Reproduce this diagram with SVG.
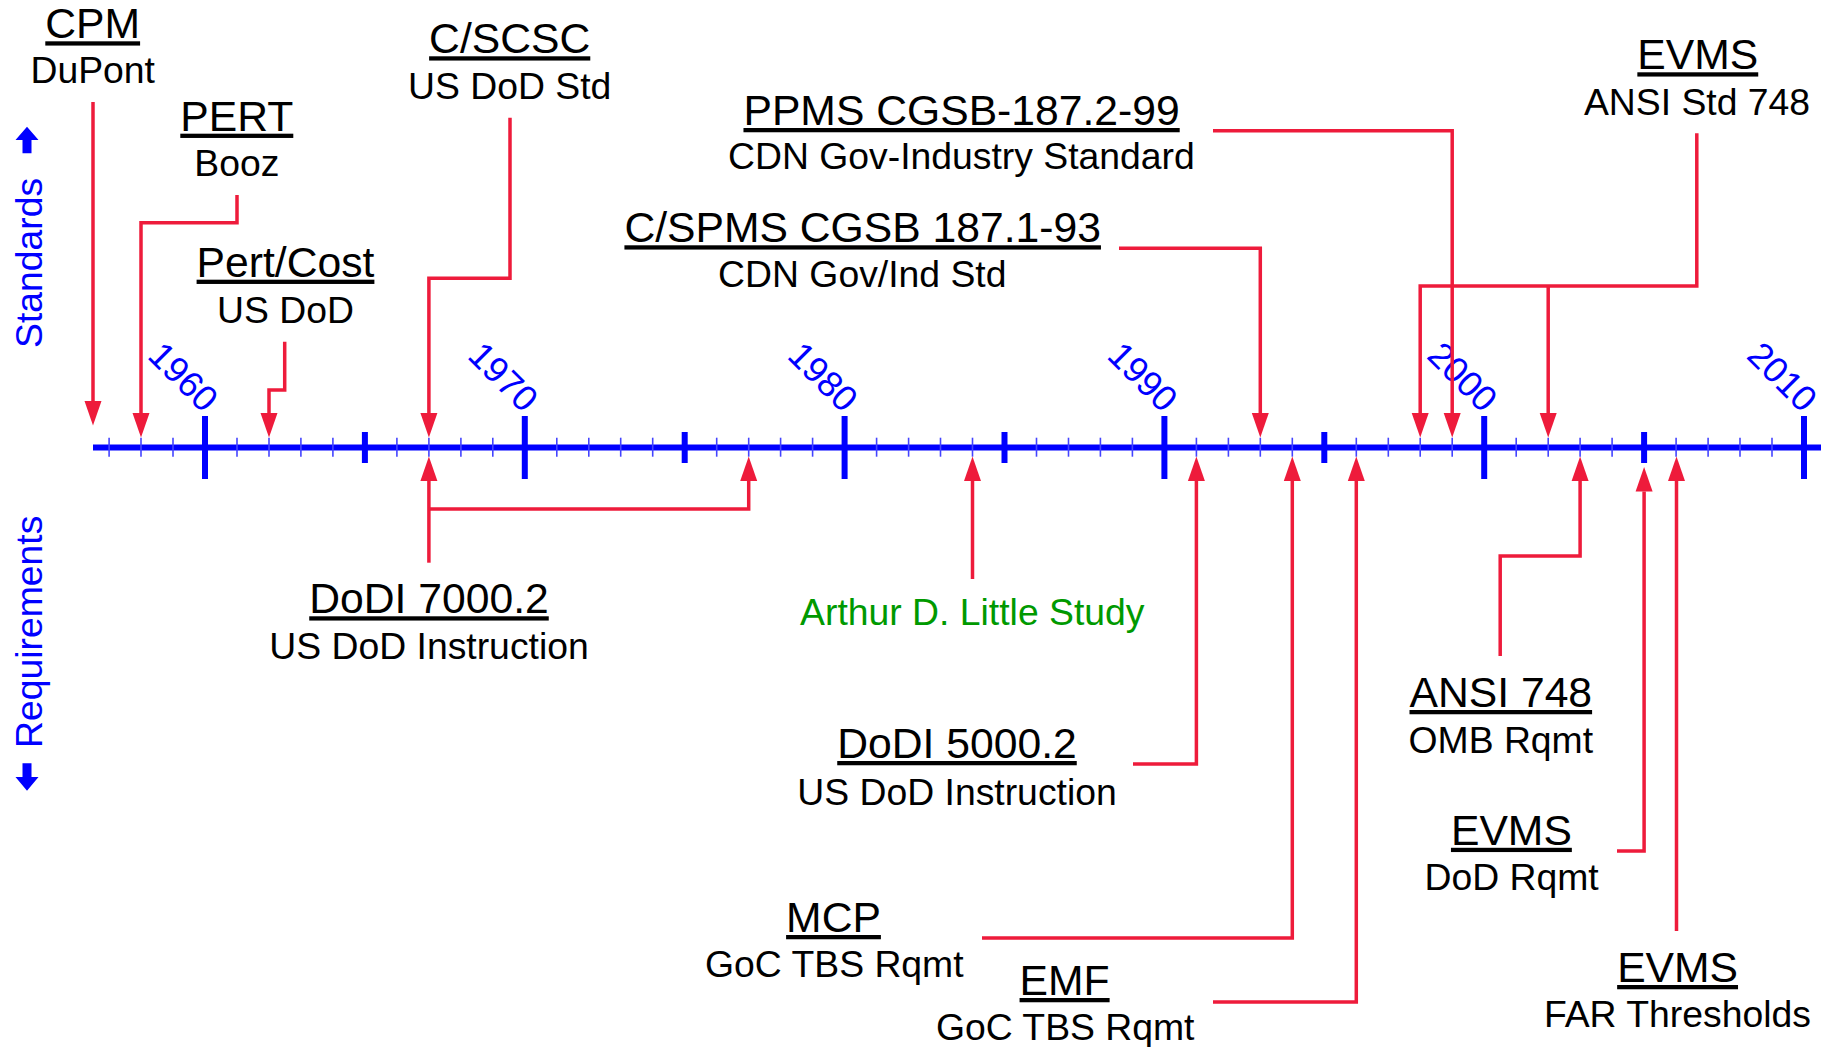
<svg xmlns="http://www.w3.org/2000/svg" width="1829" height="1047" viewBox="0 0 1829 1047">
<style>
.t{font-family:"Liberation Sans",Arial,sans-serif;font-size:42.67px;fill:#000;text-anchor:middle;text-decoration:underline}
.s{font-family:"Liberation Sans",Arial,sans-serif;font-size:37.33px;fill:#000;text-anchor:middle}
.g{font-family:"Liberation Sans",Arial,sans-serif;font-size:37.33px;fill:#009900;text-anchor:middle}
.yr{font-family:"Liberation Sans",Arial,sans-serif;font-size:36px;fill:#0000ff;text-anchor:end}
.side{font-family:"Liberation Sans",Arial,sans-serif;font-size:37.33px;fill:#0000ff}
.c{fill:none;stroke:#ee1b3b;stroke-width:3.5;stroke-linejoin:miter}
.maj{stroke:#0000ff;stroke-width:6}
.min{stroke:#4444ff;stroke-width:1.6}
</style>
<defs>
<marker id="ah" markerUnits="userSpaceOnUse" markerWidth="25" markerHeight="18" refX="0" refY="8.5" orient="auto" overflow="visible">
<path d="M0,0 L24.5,8.5 L0,17 z" fill="#ee1b3b"/>
</marker>
</defs>
<rect width="1829" height="1047" fill="#fff"/>

<g id="axis">
<line x1="93" y1="447.5" x2="1821" y2="447.5" stroke="#0000ff" stroke-width="6"/>
<g class="min">
<line x1="109.1" y1="437.7" x2="109.1" y2="456.7"/><line x1="141" y1="437.7" x2="141" y2="456.7"/><line x1="173" y1="437.7" x2="173" y2="456.7"/>
<line x1="237" y1="437.7" x2="237" y2="456.7"/><line x1="269" y1="437.7" x2="269" y2="456.7"/><line x1="300.9" y1="437.7" x2="300.9" y2="456.7"/><line x1="332.9" y1="437.7" x2="332.9" y2="456.7"/>
<line x1="396.9" y1="437.7" x2="396.9" y2="456.7"/><line x1="428.9" y1="437.7" x2="428.9" y2="456.7"/><line x1="460.9" y1="437.7" x2="460.9" y2="456.7"/><line x1="492.8" y1="437.7" x2="492.8" y2="456.7"/>
<line x1="556.8" y1="437.7" x2="556.8" y2="456.7"/><line x1="588.8" y1="437.7" x2="588.8" y2="456.7"/><line x1="620.7" y1="437.7" x2="620.7" y2="456.7"/><line x1="652.7" y1="437.7" x2="652.7" y2="456.7"/>
<line x1="716.7" y1="437.7" x2="716.7" y2="456.7"/><line x1="748.7" y1="437.7" x2="748.7" y2="456.7"/><line x1="780.6" y1="437.7" x2="780.6" y2="456.7"/><line x1="812.6" y1="437.7" x2="812.6" y2="456.7"/>
<line x1="876.6" y1="437.7" x2="876.6" y2="456.7"/><line x1="908.6" y1="437.7" x2="908.6" y2="456.7"/><line x1="940.5" y1="437.7" x2="940.5" y2="456.7"/><line x1="972.5" y1="437.7" x2="972.5" y2="456.7"/>
<line x1="1036.5" y1="437.7" x2="1036.5" y2="456.7"/><line x1="1068.5" y1="437.7" x2="1068.5" y2="456.7"/><line x1="1100.4" y1="437.7" x2="1100.4" y2="456.7"/><line x1="1132.4" y1="437.7" x2="1132.4" y2="456.7"/>
<line x1="1196.4" y1="437.7" x2="1196.4" y2="456.7"/><line x1="1228.4" y1="437.7" x2="1228.4" y2="456.7"/><line x1="1260.3" y1="437.7" x2="1260.3" y2="456.7"/><line x1="1292.3" y1="437.7" x2="1292.3" y2="456.7"/>
<line x1="1356.3" y1="437.7" x2="1356.3" y2="456.7"/><line x1="1388.3" y1="437.7" x2="1388.3" y2="456.7"/><line x1="1420.2" y1="437.7" x2="1420.2" y2="456.7"/><line x1="1452.2" y1="437.7" x2="1452.2" y2="456.7"/>
<line x1="1516.2" y1="437.7" x2="1516.2" y2="456.7"/><line x1="1548.2" y1="437.7" x2="1548.2" y2="456.7"/><line x1="1580.1" y1="437.7" x2="1580.1" y2="456.7"/><line x1="1612.1" y1="437.7" x2="1612.1" y2="456.7"/>
<line x1="1676.1" y1="437.7" x2="1676.1" y2="456.7"/><line x1="1708.1" y1="437.7" x2="1708.1" y2="456.7"/><line x1="1740" y1="437.7" x2="1740" y2="456.7"/><line x1="1772" y1="437.7" x2="1772" y2="456.7"/>
</g>
<g class="maj">
<line x1="205" y1="416" x2="205" y2="479"/><line x1="524.8" y1="416" x2="524.8" y2="479"/><line x1="844.6" y1="416" x2="844.6" y2="479"/><line x1="1164.4" y1="416" x2="1164.4" y2="479"/><line x1="1484.2" y1="416" x2="1484.2" y2="479"/><line x1="1804" y1="416" x2="1804" y2="479"/>
<line x1="364.9" y1="432" x2="364.9" y2="463"/><line x1="684.7" y1="432" x2="684.7" y2="463"/><line x1="1004.5" y1="432" x2="1004.5" y2="463"/><line x1="1324.3" y1="432" x2="1324.3" y2="463"/><line x1="1644.1" y1="432" x2="1644.1" y2="463"/>
</g>
<text class="yr" transform="translate(203,414) rotate(45)">1960</text>
<text class="yr" transform="translate(522.8,414) rotate(45)">1970</text>
<text class="yr" transform="translate(842.6,414) rotate(45)">1980</text>
<text class="yr" transform="translate(1162.4,414) rotate(45)">1990</text>
<text class="yr" transform="translate(1482.2,414) rotate(45)">2000</text>
<text class="yr" transform="translate(1802,414) rotate(45)">2010</text>
</g>

<g id="side-labels">
<text class="side" transform="translate(41.5,348) rotate(-90)">Standards</text>
<polygon points="27,126.7 38.5,140 31.5,140 31.5,153.3 22.5,153.3 22.5,140 15.5,140" fill="#0000ff"/>
<text class="side" transform="translate(41.5,748) rotate(-90)">Requirements</text>
<polygon points="27,790.7 38.5,777 31.5,777 31.5,763.3 22.5,763.3 22.5,777 15.5,777" fill="#0000ff"/>
</g>

<g id="connectors">
<path class="c" marker-end="url(#ah)" d="M93,102 V401"/>
<path class="c" marker-end="url(#ah)" d="M237,195 V222.7 H141 V413"/>
<path class="c" marker-end="url(#ah)" d="M284.7,341.7 V390 H269 V413"/>
<path class="c" marker-end="url(#ah)" d="M510,117.7 V278.3 H428.9 V413"/>
<path class="c" marker-end="url(#ah)" d="M1213,130.7 H1452.2 V413"/>
<path class="c" marker-end="url(#ah)" d="M1119,248.3 H1260.3 V413"/>
<path class="c" marker-end="url(#ah)" d="M1696.8,133.3 V286 H1420.2 V413"/>
<path class="c" marker-end="url(#ah)" d="M1548.2,286 V413"/>
<path class="c" marker-end="url(#ah)" d="M428.9,562.7 V481"/>
<path class="c" marker-end="url(#ah)" d="M428.9,509 H748.7 V481"/>
<path class="c" marker-end="url(#ah)" d="M972.5,579 V481"/>
<path class="c" marker-end="url(#ah)" d="M1133,764 H1196.4 V481"/>
<path class="c" marker-end="url(#ah)" d="M982,938 H1292.3 V481"/>
<path class="c" marker-end="url(#ah)" d="M1213,1002 H1356.3 V481"/>
<path class="c" marker-end="url(#ah)" d="M1500.2,656 V556 H1580.1 V481"/>
<path class="c" marker-end="url(#ah)" d="M1617,851 H1644.1 V491.5"/>
<path class="c" marker-end="url(#ah)" d="M1676.5,931 V481"/>
</g>

<g id="cpm"><text class="t" x="92.7" y="38.3">CPM</text><text class="s" x="92.7" y="83.3">DuPont</text></g>
<g id="pert"><text class="t" x="236.8" y="130.7">PERT</text><text class="s" x="236.8" y="176">Booz</text></g>
<g id="pertcost"><text class="t" x="285.5" y="276.7">Pert/Cost</text><text class="s" x="285.5" y="323.3">US DoD</text></g>
<g id="cscsc"><text class="t" x="509.7" y="53.3">C/SCSC</text><text class="s" x="509.7" y="99.3">US DoD Std</text></g>
<g id="ppms"><text class="t" x="961.6" y="125">PPMS CGSB-187.2-99</text><text class="s" x="961.4" y="169.3">CDN Gov-Industry Standard</text></g>
<g id="cspms"><text class="t" x="862.7" y="242.3">C/SPMS CGSB 187.1-93</text><text class="s" x="862.3" y="287.3">CDN Gov/Ind Std</text></g>
<g id="evms-ansi"><text class="t" x="1697.8" y="69.3">EVMS</text><text class="s" x="1697" y="115">ANSI Std 748</text></g>
<g id="dodi7000"><text class="t" x="429" y="613.3">DoDI 7000.2</text><text class="s" x="429" y="659.3">US DoD Instruction</text></g>
<g id="adl"><text class="g" x="972.3" y="624.8">Arthur D. Little Study</text></g>
<g id="dodi5000"><text class="t" x="957" y="758">DoDI 5000.2</text><text class="s" x="957" y="804.8">US DoD Instruction</text></g>
<g id="mcp"><text class="t" x="833.5" y="932">MCP</text><text class="s" x="834.3" y="976.8">GoC TBS Rqmt</text></g>
<g id="emf"><text class="t" x="1064.6" y="995">EMF</text><text class="s" x="1065.2" y="1040">GoC TBS Rqmt</text></g>
<g id="ansi748"><text class="t" x="1500.8" y="707">ANSI 748</text><text class="s" x="1500.8" y="752.8">OMB Rqmt</text></g>
<g id="evms-dod"><text class="t" x="1511.4" y="844.8">EVMS</text><text class="s" x="1511.6" y="890">DoD Rqmt</text></g>
<g id="evms-far"><text class="t" x="1677.6" y="982">EVMS</text><text class="s" x="1677.4" y="1027">FAR Thresholds</text></g>
</svg>
